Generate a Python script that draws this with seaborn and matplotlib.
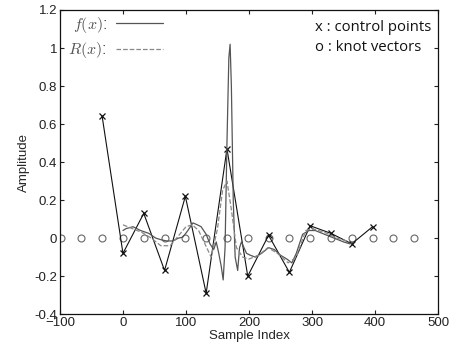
import numpy as np
import pandas as pd
import matplotlib
matplotlib.use("Agg")
import matplotlib.pyplot as plt
import seaborn as sns

# signal f(x)
f_x = [0, 5, 16, 28, 41, 52, 62, 70, 79, 88, 95, 103, 111, 118, 124, 132, 138, 144, 148, 152,
       156, 159, 162, 165, 168, 170, 172, 175, 178, 182, 185, 188, 192, 196, 202, 210, 220, 231,
       240, 250, 260, 268, 275, 285, 295, 305, 320, 335, 350, 360, 366]
f_y = [0.04, 0.05, 0.06, 0.04, 0.025, 0.0, -0.01, -0.015, -0.015, 0.0, 0.005, 0.04, 0.08, 0.07,
       0.06, 0.02, -0.03, -0.06, -0.02, -0.08, -0.15, -0.22, -0.05, 0.5, 0.95, 1.02, 0.8, 0.2,
       -0.1, -0.17, -0.05, -0.02, -0.05, -0.08, -0.09, -0.1, -0.08, -0.05, -0.06, -0.09, -0.11,
       -0.13, -0.08, 0.02, 0.04, 0.04, 0.02, 0.0, -0.02, -0.03, -0.02]

# reconstruction R(x)
r_x = [0, 15, 30, 45, 60, 75, 90, 100, 110, 120, 130, 140, 150, 158, 165, 172, 180, 190, 200,
       215, 230, 245, 262, 275, 290, 300, 320, 340, 360]
r_y = [0.07, 0.05, 0.03, 0.0, -0.04, -0.04, 0.02, 0.06, 0.07, 0.04, -0.03, -0.1, 0.05, 0.25,
       0.3, 0.15, -0.05, -0.1, -0.11, -0.09, -0.05, -0.08, -0.13, -0.1, 0.04, 0.05, 0.03, 0.0, -0.02]

# control points
cp_x = [-33, 0, 33, 66, 99, 132, 165, 198, 231, 264, 297, 330, 363, 396]
cp_y = [0.64, -0.08, 0.13, -0.17, 0.22, -0.29, 0.47, -0.2, 0.015, -0.18, 0.065, 0.025, -0.03, 0.06]

# knot vector
knot_x = [-99, -66, -33, 0, 33, 66, 99, 132, 165, 198, 231, 264, 297, 330, 363, 396, 429, 462]
knot_y = [0] * len(knot_x)

sns.set_style("ticks")
plt.rcParams['font.family'] = ['Liberation Sans', 'DejaVu Sans']
plt.rcParams['mathtext.fontset'] = 'cm'

fig = plt.figure(figsize=(4.54, 3.57), dpi=100)
ax = fig.add_axes([0.132, 0.12, 0.833, 0.852])

sns.lineplot(x=knot_x, y=knot_y, ax=ax, linestyle='none', marker='o', markersize=5,
             markerfacecolor='white', markeredgecolor='#666666', markeredgewidth=0.8,
             estimator=None, sort=False)
sns.lineplot(x=cp_x, y=cp_y, ax=ax, color='#111111', linewidth=0.8, marker='x',
             markersize=5, markeredgewidth=0.9, markeredgecolor='#111111',
             estimator=None, sort=False)
sns.lineplot(x=f_x, y=f_y, ax=ax, color='#555555', linewidth=0.9, estimator=None, sort=False,
             label='$f(x)$:')
sns.lineplot(x=r_x, y=r_y, ax=ax, color='#888888', linewidth=0.9, linestyle='--',
             dashes=(3, 2), estimator=None, sort=False, label='$R(x)$:')

ax.set_xlim(-100, 500)
ax.set_ylim(-0.4, 1.2)
ax.set_xticks([-100, 0, 100, 200, 300, 400, 500])
ax.set_yticks([-0.4, -0.2, 0, 0.2, 0.4, 0.6, 0.8, 1, 1.2])
ax.set_yticklabels(['-0.4', '-0.2', '0', '0.2', '0.4', '0.6', '0.8', '1', '1.2'])
ax.tick_params(direction='in', top=True, right=True, labelsize=9.5, length=3, width=0.8,
               colors='#222222', pad=2)
for sp in ax.spines.values():
    sp.set_visible(True)
    sp.set_linewidth(0.9)
    sp.set_color('#111111')

ax.set_xlabel('Sample Index', fontsize=9.5, labelpad=1)
ax.set_ylabel('Amplitude', fontsize=9.5, labelpad=3)

leg = ax.legend(loc='upper left', frameon=False, markerfirst=False, fontsize=11.5,
                handlelength=2.9, handletextpad=0.6, borderpad=0, borderaxespad=0,
                labelspacing=0.35, bbox_to_anchor=(0.022, 0.985))
for t in leg.get_texts():
    t.set_color('#555555')

ax.text(0.675, 0.968, 'x : control points', transform=ax.transAxes, ha='left', va='top',
        fontsize=10.7, family=['Open Sans', 'DejaVu Sans'], color='#111111')
ax.text(0.675, 0.9, 'o : knot vectors', transform=ax.transAxes, ha='left', va='top',
        fontsize=10.7, family=['Open Sans', 'DejaVu Sans'], color='#111111')

fig.savefig('out.png', dpi=100)
